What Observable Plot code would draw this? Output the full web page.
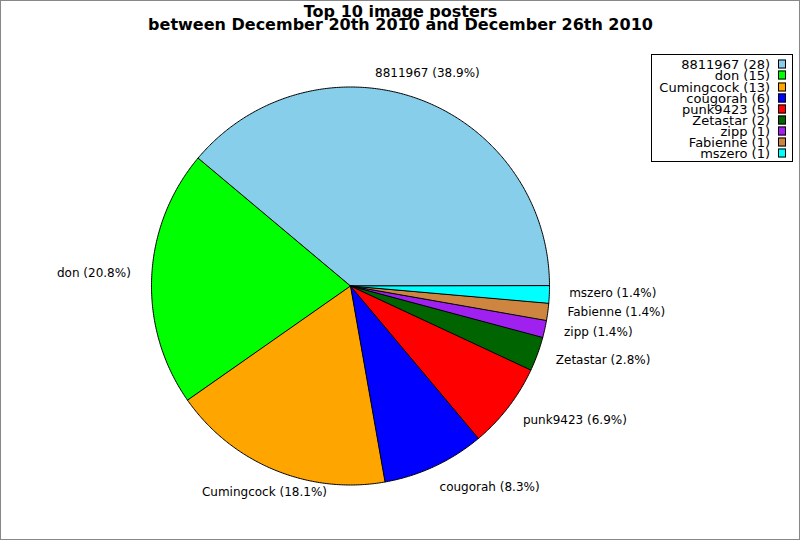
<!DOCTYPE html>
<html>
<head>
<meta charset="utf-8">
<script src="https://cdn.jsdelivr.net/npm/d3@7"></script>
<script src="https://cdn.jsdelivr.net/npm/@observablehq/plot@0.6"></script>
<style>
  html, body { margin: 0; padding: 0; background: white; }
  #wrap { position: relative; width: 800px; height: 540px; overflow: hidden; font-family: "DejaVu Sans", sans-serif; }
  #border { position: absolute; left: 0; top: 0; width: 800px; height: 540px; box-sizing: border-box; border: 1px solid #888; pointer-events: none; }
  #legend { position: absolute; left: 651px; top: 54px; width: 142px; height: 108px; box-sizing: border-box; border: 1px solid #000; background: white; }
  .row { position: absolute; left: 0; width: 142px; height: 12px; font-size: 13px; color: #000; }
  .row span.t { position: absolute; right: 24px; top: 50%; transform: translateY(-50%); line-height: 1; white-space: nowrap; }
  .row span.s { position: absolute; left: 126px; top: 50%; transform: translateY(-50%); width: 6px; height: 7px; border: 1px solid #000; }
</style>
</head>
<body>
<div id="wrap"><div id="border"></div></div>
<script>
// ---- data ----
const titleLines = ["Top 10 image posters", "between December 20th 2010 and December 26th 2010"];
const posters = ["8811967", "don", "Cumingcock", "cougorah", "punk9423", "Zetastar", "zipp", "Fabienne", "mszero"];
const counts = [28, 15, 13, 6, 5, 2, 1, 1, 1];
const colors = ["#87CEEB", "#00FF00", "#FFA500", "#0000FF", "#FF0000", "#006400", "#A020F0", "#CD853F", "#00FFFF"];

// ---- layout ----
const W = 800, H = 540, CX = 350, CY = 285.5, R = 199;
const total = d3.sum(counts);

// slices: counterclockwise from 3 o'clock
let acc = 0;
const slices = posters.map((name, i) => {
  const a0 = acc / total * 360;
  acc += counts[i];
  const a1 = acc / total * 360;
  const pct = (counts[i] / total * 100).toFixed(1);
  return {name, count: counts[i], color: colors[i], a0, a1, mid: (a0 + a1) / 2, pct};
});

const rad = d => d * Math.PI / 180;
const polyPoints = [];
for (const s of slices) {
  polyPoints.push({name: s.name, color: s.color, x: 0, y: 0});
  const n = Math.max(2, Math.ceil((s.a1 - s.a0) / 0.5));
  for (let k = 0; k <= n; k++) {
    const a = rad(s.a0 + (s.a1 - s.a0) * k / n);
    polyPoints.push({name: s.name, color: s.color, x: Math.cos(a), y: Math.sin(a)});
  }
}

const LR = 1.13;
const labels = slices.map(s => {
  const c = Math.cos(rad(s.mid)), sn = Math.sin(rad(s.mid));
  return {text: `${s.name} (${s.pct}%)`, x: LR * c, y: LR * sn,
          anchor: c > 0.4 ? "start" : c < -0.4 ? "end" : "middle"};
});

const chart = Plot.plot({
  width: W, height: H,
  marginTop: 0, marginRight: 0, marginBottom: 0, marginLeft: 0,
  x: {domain: [-CX / R, (W - CX) / R], range: [0, W], axis: null},
  y: {domain: [-(H - CY) / R, CY / R], range: [H, 0], axis: null},
  color: {type: "identity"},
  style: {fontFamily: "DejaVu Sans, sans-serif", fontSize: "12px", background: "white", color: "black"},
  marks: [
    Plot.line(polyPoints, {x: "x", y: "y", z: "name", fill: "color", stroke: "black", strokeWidth: 1, curve: "linear-closed"}),
    Plot.text(labels.filter(d => d.anchor === "start"), {x: "x", y: "y", text: "text", textAnchor: "start", dx: -6, dy: -3, fill: "black", fontSize: 12}),
    Plot.text(labels.filter(d => d.anchor === "end"), {x: "x", y: "y", text: "text", textAnchor: "end", dx: 5, dy: -3, fill: "black", fontSize: 12}),
    Plot.text(labels.filter(d => d.anchor === "middle"), {x: "x", y: "y", text: "text", textAnchor: "middle", dy: -2, fill: "black", fontSize: 12}),
    Plot.text([titleLines[0]], {frameAnchor: "top", lineAnchor: "bottom", dy: 16, text: d => d, fontSize: 16, fontWeight: "bold", fill: "black"}),
    Plot.text([titleLines[1]], {frameAnchor: "top", lineAnchor: "bottom", dy: 29, text: d => d, fontSize: 16, fontWeight: "bold", fill: "black"})
  ]
});

const wrap = document.getElementById("wrap");
wrap.insertBefore(chart, wrap.firstChild);

// legend
const legend = document.createElement("div");
legend.id = "legend";
slices.forEach((s, i) => {
  const row = document.createElement("div");
  row.className = "row";
  row.style.top = (63.3 - 54 - 6 + 11.1 * i) + "px";
  const t = document.createElement("span");
  t.className = "t";
  t.textContent = `${s.name} (${s.count})`;
  const sq = document.createElement("span");
  sq.className = "s";
  sq.style.background = s.color;
  row.appendChild(t);
  row.appendChild(sq);
  legend.appendChild(row);
});
wrap.appendChild(legend);
</script>
</body>
</html>
